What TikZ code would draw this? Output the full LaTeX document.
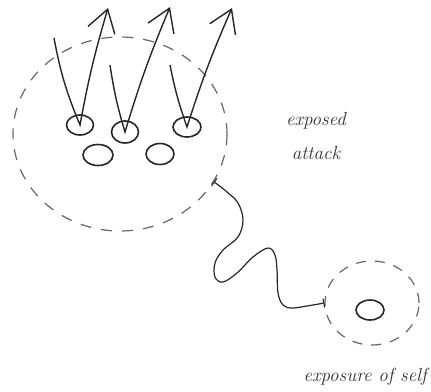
\documentclass[tikz,border=0pt]{standalone}
\usetikzlibrary{shapes.geometric,arrows.meta}
\begin{document}
\begin{tikzpicture}[x=1pt,y=-1pt,
  ink/.style={draw=black!85, line width=1.4pt},
  dashring/.style={ellipse, draw=black!60, line width=1.2pt, dash pattern=on 11pt off 10pt, inner sep=0pt},
  spot/.style={ellipse, draw=black!85, line width=1.6pt, inner sep=0pt},
  upshaft/.style={ink, -{Straight Barb[length=22pt,width=28pt,line width=1.4pt]}},
  wavy/.style={draw=black!85, line width=1.2pt, {Bar[width=9pt,line width=1.1pt]}-{Bar[width=9pt,line width=1.1pt]}},
  lbl/.style={font=\fontsize{19}{21}\selectfont\itshape, text=black!80, inner sep=0pt}
]
\useasboundingbox (0,0) rectangle (431,391);

% big dashed region
\node[dashring, minimum width=214pt, minimum height=194pt] (big) at (120,134) {};
% small dashed region
\node[dashring, minimum width=94pt, minimum height=84pt, dash pattern=on 10pt off 9pt] (small) at (372,303) {};

% spots
\node[spot, minimum width=27pt, minimum height=20pt] (o1) at (80,125) {};
\node[spot, minimum width=27pt, minimum height=22pt] (o2) at (125,132) {};
\node[spot, minimum width=28pt, minimum height=20pt] (o3) at (187,127) {};
\node[spot, minimum width=30pt, minimum height=21pt] (o4) at (98,155) {};
\node[spot, minimum width=28pt, minimum height=21pt] (o5) at (160,154) {};
\node[spot, minimum width=28pt, minimum height=20pt] (o6) at (370,310) {};

% tails and tips of the arrows
\coordinate (t1) at (54,38);
\coordinate (t2) at (110,65);
\coordinate (t3) at (170,65);
\coordinate (h1) at (108,8);
\coordinate (h2) at (170,7);
\coordinate (h3) at (232,8);

\draw[upshaft] (t1) to[bend right=6] (o1.center) to[bend left=3] (h1);
\draw[upshaft] (t2) to[bend right=4] (o2.center) to[bend left=3] (h2);
\draw[upshaft] (t3) to[bend right=4] (o3.center) to[bend left=3] (h3);

% wavy connector
\draw[wavy] plot[smooth, tension=0.6] coordinates {(big.-27) (227,192) (238,203) (243,220) (238,237) (223,250) (215,263) (215,277) (223,282) (237,273) (253,257) (268,248) (275,255) (277,270) (278,293) (283,305) (292,308) (307,306) (small.west)};

% labels
\node[lbl] (l1) at (316,121) {exposed};
\node[lbl] (l2) at (316,153) {attack};
\node[lbl, anchor=east] (l3) at (427,377) {exposure of self};
\end{tikzpicture}
\end{document}
